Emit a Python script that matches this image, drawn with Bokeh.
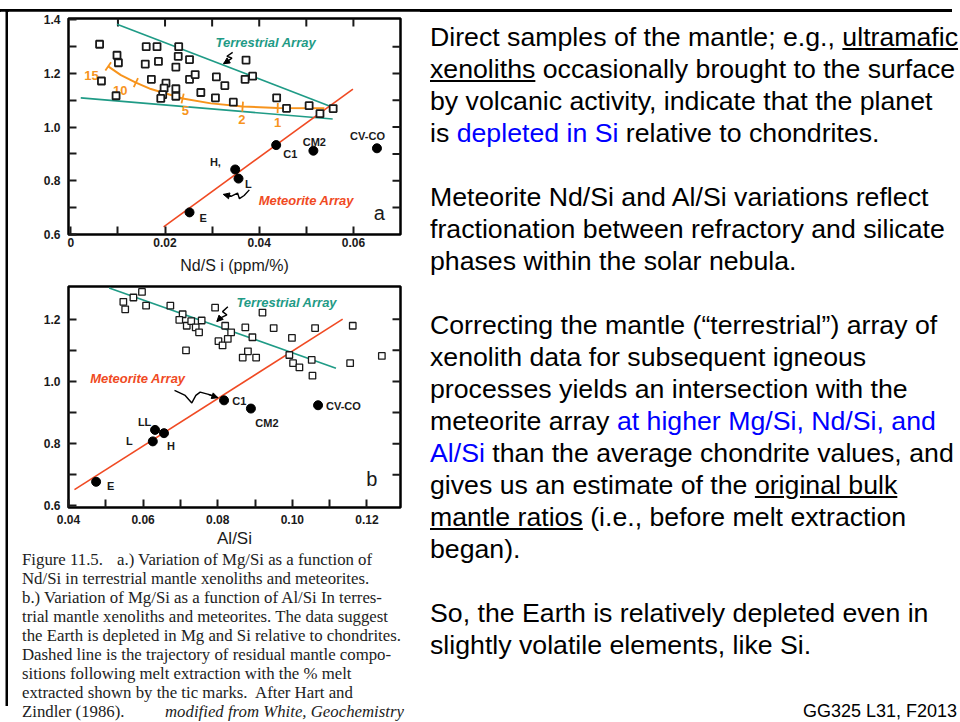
import math
from bokeh.plotting import figure
from bokeh.models import Range1d, FixedTicker, Div, Arrow, NormalHead
from bokeh.layouts import column, row
from bokeh.core.properties import value
from bokeh.embed import file_html
from bokeh.resources import INLINE

SANS = "Liberation Sans"
TEAL = "#1f9b86"
RED = "#f04a23"
ORANGE = "#f7941d"
INK = "#1a1a1a"

# ---------------- Panel a : Mg/Si vs Nd/Si ----------------
a_xeno_ndsi = [0.0061, 0.0098, 0.0101, 0.0065, 0.0096, 0.0160, 0.0183, 0.0229, 0.0228, 0.0186,
               0.0158, 0.0252, 0.0223, 0.0171, 0.0202, 0.0198, 0.0195, 0.0191, 0.0223, 0.0223,
               0.0252, 0.0264, 0.0276, 0.0309, 0.0327, 0.0307, 0.0345, 0.0372, 0.0370, 0.0386,
               0.0437, 0.0458, 0.0506, 0.0529, 0.0557]
a_xeno_mgsi = [1.309, 1.268, 1.240, 1.172, 1.117, 1.300, 1.300, 1.300, 1.264, 1.245,
               1.235, 1.252, 1.224, 1.178, 1.164, 1.145, 1.121, 1.107, 1.143, 1.115,
               1.178, 1.196, 1.129, 1.187, 1.155, 1.109, 1.093, 1.250, 1.178, 1.190,
               1.109, 1.070, 1.080, 1.050, 1.069]

a_met_names = ["E", "H,", "L", "C1", "CM2", "CV-CO"]
a_met_ndsi = [0.0252, 0.0349, 0.0356, 0.0436, 0.0515, 0.0650]
a_met_mgsi = [0.682, 0.842, 0.808, 0.933, 0.912, 0.921]
a_met_label_ndsi = [0.0281, 0.0307, 0.0377, 0.0466, 0.0517, 0.0630]
a_met_label_mgsi = [0.661, 0.869, 0.788, 0.899, 0.945, 0.966]

a_terr_upper_ndsi = [0.0098, 0.0549]
a_terr_upper_mgsi = [1.384, 1.079]
a_terr_lower_ndsi = [0.0021, 0.0556]
a_terr_lower_mgsi = [1.109, 1.030]
a_met_line_ndsi = [0.0197, 0.0599]
a_met_line_mgsi = [0.628, 1.142]

a_melt_ndsi = [0.00793, 0.01063, 0.01381, 0.01700, 0.01983, 0.02373, 0.02975, 0.03648, 0.04392, 0.05384]
a_melt_mgsi = [1.2267, 1.1939, 1.1661, 1.1418, 1.1273, 1.1067, 1.0885, 1.0764, 1.0715, 1.0703]
a_melt_pct = ["15", "10", "5", "2", "1"]
a_melt_tick_index = [0, 2, 5, 7, 8]
a_melt_label_ndsi = [0.0044, 0.0105, 0.0243, 0.0363, 0.0439]
a_melt_label_mgsi = [1.194, 1.137, 1.061, 1.030, 1.018]

a_terr_arrow_ndsi = [0.03436, 0.03315, 0.03421, 0.03329, 0.03244]
a_terr_arrow_mgsi = [1.2788, 1.2642, 1.2570, 1.2461, 1.2364]
a_met_arrow_ndsi = [0.0379, 0.0368, 0.0358, 0.0354, 0.0340, 0.0324]
a_met_arrow_mgsi = [0.766, 0.745, 0.733, 0.754, 0.742, 0.749]

a_x_major = [0.0, 0.02, 0.04, 0.06]
a_x_major_labels = ["0", "0.02", "0.04", "0.06"]
a_x_minor = [0.01, 0.03, 0.05]
a_x_top = [0.01, 0.02, 0.03, 0.04, 0.05, 0.06]
a_y_major = [0.6, 0.8, 1.0, 1.2, 1.4]
a_y_major_labels = ["0.6", "0.8", "1.0", "1.2", "1.4"]
a_y_minor = [0.7, 0.9, 1.1, 1.3]
a_y_right = [0.7, 0.8, 0.9, 1.0, 1.1, 1.2, 1.3]

# ---------------- Panel b : Mg/Si vs Al/Si ----------------
b_xeno_alsi = [0.0597, 0.0547, 0.0552, 0.0574, 0.0608, 0.0673, 0.0706, 0.0697, 0.0717, 0.0729,
               0.0741, 0.0750, 0.0757, 0.0715, 0.0793, 0.0820, 0.0836, 0.0802, 0.0813, 0.0827,
               0.0874, 0.0893, 0.0881, 0.0867, 0.0903, 0.0920, 0.0950, 0.0999, 0.1061, 0.0992,
               0.1002, 0.1019, 0.1052, 0.1054, 0.1155, 0.1162, 0.1240]
b_xeno_mgsi = [1.2876, 1.2559, 1.2317, 1.2697, 1.2433, 1.2433, 1.2158, 1.1979, 1.1789, 1.1937,
               1.1736, 1.1578, 1.1958, 1.0997, 1.2369, 1.1789, 1.1578, 1.1293, 1.1156, 1.1367,
               1.1736, 1.1420, 1.0966, 1.0765, 1.0765, 1.2211, 1.1715, 1.1398, 1.1715, 1.0850,
               1.0586, 1.0449, 1.0691, 1.0185, 1.0586, 1.1789, 1.0818]

b_met_names = ["E", "L", "LL", "H", "C1", "CM2", "CV-CO"]
b_met_alsi = [0.0474, 0.0626, 0.0632, 0.0656, 0.0817, 0.0889, 0.1069]
b_met_mgsi = [0.6776, 0.8074, 0.8443, 0.8338, 0.9393, 0.9129, 0.9235]
b_met_label_alsi = [0.0513, 0.0563, 0.0604, 0.0675, 0.0858, 0.0932, 0.1137]
b_met_label_mgsi = [0.6628, 0.8095, 0.8707, 0.7937, 0.9372, 0.8675, 0.9203]

b_terr_line_alsi = [0.0509, 0.1117]
b_terr_line_mgsi = [1.3003, 1.0427]
b_met_line_alsi = [0.0416, 0.1135]
b_met_line_mgsi = [0.6522, 1.2000]

b_terr_arrow_alsi = [0.08272, 0.08129, 0.08245, 0.08066, 0.07977]
b_terr_arrow_mgsi = [1.2401, 1.2243, 1.2137, 1.2032, 1.1926]
b_met_arrow_alsi = [0.06842, 0.07128, 0.07306, 0.07414, 0.07530, 0.07753, 0.08004]
b_met_arrow_mgsi = [0.9710, 0.9551, 0.9309, 0.9551, 0.9657, 0.9583, 0.9478]

b_x_major = [0.04, 0.06, 0.08, 0.10, 0.12]
b_x_major_labels = ["0.04", "0.06", "0.08", "0.10", "0.12"]
b_x_minor = [0.05, 0.07, 0.09, 0.11]
b_y_major = [0.6, 0.8, 1.0, 1.2]
b_y_major_labels = ["0.6", "0.8", "1.0", "1.2"]
b_y_minor = [0.7, 0.9, 1.1]
b_y_right = [0.7, 0.8, 0.9, 1.0, 1.1, 1.2]

# ---------------- layout constants ----------------
TOTAL_W = 952
RULE_H = 3
GAP_H = 8
ROW_H = 695
RULE_W = 8
LEFT_W = 412
RIGHT_W = TOTAL_W - RULE_W - LEFT_W
A_X0, A_X1, A_Y0, A_Y1 = -0.0005, 0.0700, 0.5995, 1.405
B_X0, B_X1, B_Y0, B_Y1 = 0.0400, 0.1290, 0.595, 1.305
MB_L, MB_R = 60, 20
A_H, A_TOP, A_BOT = 269, 7, 46
B_H, B_TOP, B_BOT = 271, 6, 44
CAP_H = ROW_H - A_H - B_H
FRAME_W = LEFT_W - MB_L - MB_R
TICK = 8


def rule_fig(w, h, left):
    """A plain black vertical bar (slide rule) made from an empty plot frame."""
    p = figure(width=w, height=h, output_backend="svg", toolbar_location=None,
               x_axis_location=None, y_axis_location=None,
               min_border_left=left, min_border_right=0, min_border_top=0, min_border_bottom=0,
               x_range=Range1d(0, 1), y_range=Range1d(0, 1))
    p.xgrid.visible = False
    p.ygrid.visible = False
    p.background_fill_color = "black"
    p.border_fill_color = "white"
    p.outline_line_color = None
    return p


def base_fig(h, top, bot, xr, yr):
    p = figure(width=LEFT_W, height=h, x_range=Range1d(*xr), y_range=Range1d(*yr),
               output_backend="svg", toolbar_location=None,
               min_border_left=MB_L, min_border_right=MB_R,
               min_border_top=top, min_border_bottom=bot)
    p.xgrid.visible = False
    p.ygrid.visible = False
    p.outline_line_color = "black"
    p.outline_line_width = 2.5
    p.background_fill_color = "white"
    p.border_fill_color = "white"
    for ax in p.xaxis + p.yaxis:
        ax.axis_line_color = None
        ax.major_tick_in = TICK
        ax.major_tick_out = 0
        ax.minor_tick_in = TICK
        ax.minor_tick_out = 0
        ax.major_tick_line_width = 2
        ax.minor_tick_line_width = 2
        ax.major_tick_line_color = INK
        ax.minor_tick_line_color = INK
        ax.major_label_text_font = SANS
        ax.major_label_text_font_style = "bold"
        ax.major_label_text_font_size = "12px"
        ax.major_label_text_color = INK
        ax.axis_label_text_font = SANS
        ax.axis_label_text_font_style = "normal"
        ax.axis_label_text_color = INK
    p.yaxis.major_label_standoff = 8
    return p


def inner_ticks_top(p, ticks, ytop):
    p.ray(x=ticks, y=[ytop] * len(ticks), length=TICK, length_units="screen",
          angle=-math.pi / 2, line_color=INK, line_width=2)


def inner_ticks_right(p, ticks, xright):
    p.ray(x=[xright] * len(ticks), y=ticks, length=TICK, length_units="screen",
          angle=math.pi, line_color=INK, line_width=2)


def squiggle(p, xs, ys):
    p.line(xs, ys, line_color="black", line_width=1.4)
    p.add_layout(Arrow(end=NormalHead(size=6, fill_color="black", line_color="black"),
                       x_start=xs[-2], y_start=ys[-2], x_end=xs[-1], y_end=ys[-1],
                       line_color="black", line_width=1.4))


def label(p, x, y, text, color, size, style="bold italic", align="center"):
    p.text(x=[x], y=[y], text=[text], text_color=color, text_font=value(SANS),
           text_font_style=style, text_font_size=size, text_align=align, text_baseline="middle")


# ---------------- Panel a figure ----------------
fa = base_fig(A_H, A_TOP, A_BOT, (A_X0, A_X1), (A_Y0, A_Y1))
fa.xaxis.ticker = FixedTicker(ticks=a_x_major, minor_ticks=a_x_minor)
fa.yaxis.ticker = FixedTicker(ticks=a_y_major, minor_ticks=a_y_minor)
fa.xaxis.major_label_overrides = dict(zip(a_x_major, a_x_major_labels))
fa.yaxis.major_label_overrides = dict(zip(a_y_major, a_y_major_labels))
fa.xaxis.major_label_standoff = 3
fa.xaxis.axis_label = "Nd/S i (ppm/%)"
fa.xaxis.axis_label_text_font_size = "16px"
fa.xaxis.axis_label_standoff = 7
inner_ticks_top(fa, a_x_top, A_Y1)
inner_ticks_right(fa, a_y_right, A_X1)

fa.line(a_terr_upper_ndsi, a_terr_upper_mgsi, line_color=TEAL, line_width=1.6)
fa.line(a_terr_lower_ndsi, a_terr_lower_mgsi, line_color=TEAL, line_width=1.6)
fa.line(a_met_line_ndsi, a_met_line_mgsi, line_color=RED, line_width=1.6)
fa.line(a_melt_ndsi, a_melt_mgsi, line_color=ORANGE, line_width=2)

# melt-percentage tic marks drawn perpendicular to the trajectory
A_FH = A_H - A_TOP - A_BOT
sx = FRAME_W / (A_X1 - A_X0)
sy = A_FH / (A_Y1 - A_Y0)
tx0, tx1, ty0, ty1 = [], [], [], []
n = len(a_melt_ndsi)
for i in a_melt_tick_index:
    j0, j1 = max(i - 1, 0), min(i + 1, n - 1)
    dxp = (a_melt_ndsi[j1] - a_melt_ndsi[j0]) * sx
    dyp = (a_melt_mgsi[j1] - a_melt_mgsi[j0]) * sy
    L = math.hypot(dxp, dyp)
    nx, ny = -dyp / L, dxp / L
    half = 5.0
    tx0.append(a_melt_ndsi[i] - nx * half / sx)
    tx1.append(a_melt_ndsi[i] + nx * half / sx)
    ty0.append(a_melt_mgsi[i] - ny * half / sy)
    ty1.append(a_melt_mgsi[i] + ny * half / sy)
fa.segment(tx0, ty0, tx1, ty1, line_color=ORANGE, line_width=1.8)
fa.text(x=a_melt_label_ndsi, y=a_melt_label_mgsi, text=a_melt_pct, text_color=ORANGE,
        text_font=value(SANS), text_font_style="bold", text_font_size="13px",
        text_align="center", text_baseline="middle")

fa.scatter(a_xeno_ndsi, a_xeno_mgsi, marker="square", size=7, fill_color="white",
           line_color=INK, line_width=1.8)
fa.scatter(a_met_ndsi, a_met_mgsi, marker="circle", size=9, fill_color="black", line_color="black")
fa.text(x=a_met_label_ndsi, y=a_met_label_mgsi, text=a_met_names, text_color=INK,
        text_font=value(SANS), text_font_style="bold", text_font_size="11px",
        text_align="center", text_baseline="middle")

squiggle(fa, a_terr_arrow_ndsi, a_terr_arrow_mgsi)
squiggle(fa, a_met_arrow_ndsi, a_met_arrow_mgsi)
label(fa, 0.0414, 1.315, "Terrestrial Array", TEAL, "13px")
label(fa, 0.0500, 0.727, "Meteorite Array", RED, "13px")
label(fa, 0.0655, 0.679, "a", INK, "20px", style="normal")

# ---------------- Panel b figure ----------------
fb = base_fig(B_H, B_TOP, B_BOT, (B_X0, B_X1), (B_Y0, B_Y1))
fb.xaxis.ticker = FixedTicker(ticks=b_x_major, minor_ticks=b_x_minor)
fb.yaxis.ticker = FixedTicker(ticks=b_y_major, minor_ticks=b_y_minor)
fb.xaxis.major_label_overrides = dict(zip(b_x_major, b_x_major_labels))
fb.yaxis.major_label_overrides = dict(zip(b_y_major, b_y_major_labels))
fb.xaxis.major_label_standoff = 7
fb.xaxis.axis_label = "Al/Si"
fb.xaxis.axis_label_text_font_size = "17px"
fb.xaxis.axis_label_standoff = 2
inner_ticks_right(fb, b_y_right, B_X1)

fb.line(b_terr_line_alsi, b_terr_line_mgsi, line_color=TEAL, line_width=1.6)
fb.line(b_met_line_alsi, b_met_line_mgsi, line_color=RED, line_width=1.6)
fb.scatter(b_xeno_alsi, b_xeno_mgsi, marker="square", size=6.5, fill_color="white",
           line_color=INK, line_width=1.3)
fb.scatter(b_met_alsi, b_met_mgsi, marker="circle", size=9, fill_color="black", line_color="black")
fb.text(x=b_met_label_alsi, y=b_met_label_mgsi, text=b_met_names, text_color=INK,
        text_font=value(SANS), text_font_style="bold", text_font_size="11px",
        text_align="center", text_baseline="middle")
squiggle(fb, b_terr_arrow_alsi, b_terr_arrow_mgsi)
squiggle(fb, b_met_arrow_alsi, b_met_arrow_mgsi)
label(fb, 0.0985, 1.2538, "Terrestrial Array", TEAL, "13px")
label(fb, 0.0586, 1.0079, "Meteorite Array", RED, "13px")
label(fb, 0.1213, 0.686, "b", INK, "20px", style="normal")

# ---------------- caption ----------------
cap_lines = [
    '<span style="display:inline-block;width:95px">Figure 11.5.</span>a.) Variation of Mg/Si as a function of',
    "Nd/Si in terrestrial mantle xenoliths and meteorites.",
    "b.) Variation of Mg/Si as a function of Al/Si In terres-",
    "trial mantle xenoliths and meteorites. The data suggest",
    "the Earth is depleted in Mg and Si relative to chondrites.",
    "Dashed line is the trajectory of residual mantle compo-",
    "sitions following melt extraction with the % melt",
    "extracted shown by the tic marks.&nbsp; After Hart and",
    '<span style="display:inline-block;width:143px">Zindler (1986).</span><i>modified from White, Geochemistry</i>',
]
cap_html = ('<div style="position:relative;top:-1px;width:%dpx;height:%dpx;overflow:visible;'
            'box-sizing:border-box;padding:0 0 0 14px;font-family:\'Liberation Serif\',serif;'
            'font-size:16.8px;line-height:19px;color:#222;white-space:nowrap;">%s</div>'
            % (LEFT_W, CAP_H + 16, "<br>".join(cap_lines)))
cap = Div(text=cap_html, width=LEFT_W, height=CAP_H, margin=0, styles={"overflow": "visible"})

# ---------------- right-hand text ----------------
BLUE = "#0000ff"
U = '<span style="text-decoration:underline">%s</span>'
B = '<span style="color:%s">%%s</span>' % BLUE
text_lines = [
    "Direct samples of the mantle; e.g., " + U % "ultramafic",
    U % "xenoliths" + " occasionally brought to the surface",
    "by volcanic activity, indicate that the planet",
    "is " + B % "depleted in Si" + " relative to chondrites.",
    "&nbsp;",
    "Meteorite Nd/Si and Al/Si variations reflect",
    "fractionation between refractory and silicate",
    "phases within the solar nebula.",
    "&nbsp;",
    "Correcting the mantle (\u201cterrestrial\u201d) array of",
    "xenolith data for subsequent igneous",
    "processes yields an intersection with the",
    "meteorite array " + B % "at higher Mg/Si, Nd/Si, and",
    B % "Al/Si" + " than the average chondrite values, and",
    "gives us an estimate of the " + U % "original bulk",
    U % "mantle ratios" + " (i.e., before melt extraction",
    "began).",
    "&nbsp;",
    "So, the Earth is relatively depleted even in",
    "slightly volatile elements, like Si.",
]
right_html = ('<div style="position:relative;width:540px;height:711px;overflow:visible;'
              'font-family:\'Liberation Sans\',Arial,sans-serif;color:#000;white-space:nowrap;">'
              '<div style="position:absolute;left:10px;top:10px;font-size:26.7px;line-height:32px;">%s</div>'
              '<div style="position:absolute;right:3px;bottom:1px;font-size:18px;line-height:20px;">'
              'GG325 L31, F2013</div></div>' % "<br>".join(text_lines))
right = Div(text=right_html, width=RIGHT_W, height=ROW_H, margin=0, styles={"overflow": "visible"})

# slide rules: black rule across the top, vertical rule down the left edge
top_rule = Div(text='<div style="width:%dpx;height:%dpx;background:#000"></div>' % (TOTAL_W, RULE_H),
               width=TOTAL_W, height=RULE_H, margin=0)
gap = Div(text="", width=TOTAL_W, height=GAP_H, margin=0)
left_rule = rule_fig(RULE_W, ROW_H, 5)

page = column(top_rule,
              column(gap,
                     row(left_rule, column(fa, fb, cap, spacing=0), right, spacing=0),
                     spacing=0),
              spacing=0)

open("out.html", "w").write(file_html(page, INLINE))
